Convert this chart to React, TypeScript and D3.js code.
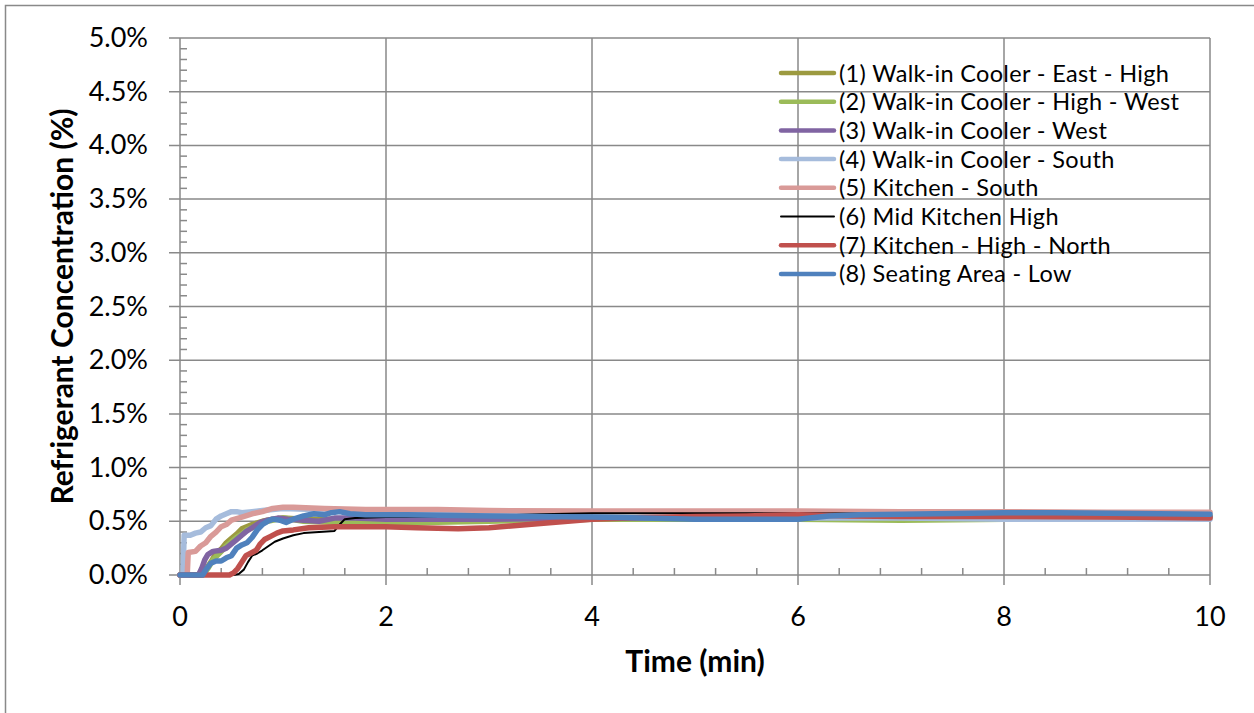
import { useEffect, useRef } from 'react';
import * as d3 from 'd3';

// time (min), concentration (%)
const coolerEastHigh: [number, number][] = [
  [0, 0], [0.2, 0], [0.25, 0.05], [0.3, 0.12], [0.35, 0.2], [0.4, 0.24], [0.45, 0.3], [0.5, 0.34],
  [0.55, 0.38], [0.6, 0.43], [0.7, 0.47], [0.8, 0.5], [0.9, 0.52], [1.0, 0.53], [1.2, 0.52],
  [1.5, 0.52], [2, 0.51], [3, 0.51], [4, 0.52], [5, 0.53], [6, 0.54], [7, 0.545], [8, 0.55],
  [9, 0.55], [10, 0.55],
];
const coolerHighWest: [number, number][] = [
  [0, 0], [0.22, 0], [0.27, 0.06], [0.32, 0.14], [0.38, 0.2], [0.45, 0.27], [0.5, 0.31],
  [0.55, 0.35], [0.6, 0.38], [0.65, 0.42], [0.75, 0.46], [0.85, 0.5], [1.0, 0.53], [1.2, 0.5],
  [1.5, 0.49], [2, 0.48], [2.5, 0.49], [3, 0.5], [3.5, 0.51], [4, 0.52], [5, 0.52], [6, 0.52],
  [7, 0.51], [8, 0.52], [9, 0.53], [10, 0.54],
];
const coolerWest: [number, number][] = [
  [0, 0], [0.18, 0], [0.21, 0.06], [0.24, 0.14], [0.27, 0.19], [0.32, 0.22], [0.4, 0.23],
  [0.45, 0.25], [0.5, 0.29], [0.55, 0.33], [0.6, 0.37], [0.65, 0.41], [0.7, 0.44], [0.78, 0.49],
  [0.85, 0.51], [0.95, 0.53], [1.05, 0.52], [1.2, 0.51], [1.35, 0.5], [1.5, 0.53], [1.7, 0.53],
  [2, 0.52], [3, 0.52], [4, 0.53], [5, 0.53], [6, 0.535], [7, 0.54], [8, 0.54], [9, 0.54], [10, 0.54],
];
const coolerSouth: [number, number][] = [
  [0, 0], [0.03, 0], [0.04, 0.37], [0.1, 0.37], [0.15, 0.39], [0.2, 0.4], [0.25, 0.44],
  [0.3, 0.46], [0.35, 0.52], [0.4, 0.55], [0.45, 0.57], [0.5, 0.59], [0.55, 0.59], [0.6, 0.58],
  [0.7, 0.59], [0.8, 0.6], [1.0, 0.62], [1.3, 0.61], [1.6, 0.59], [2, 0.57], [3, 0.56], [4, 0.54],
  [5, 0.53], [6, 0.53], [7, 0.53], [8, 0.52], [9, 0.52], [10, 0.52],
];
const kitchenSouth: [number, number][] = [
  [0, 0], [0.07, 0], [0.08, 0.21], [0.15, 0.22], [0.2, 0.27], [0.25, 0.3], [0.3, 0.36],
  [0.35, 0.4], [0.4, 0.45], [0.45, 0.47], [0.5, 0.51], [0.6, 0.54], [0.7, 0.57], [0.8, 0.59],
  [0.9, 0.62], [1.0, 0.63], [1.1, 0.63], [1.4, 0.62], [1.8, 0.61], [2.5, 0.61], [3, 0.6],
  [4, 0.595], [5, 0.595], [6, 0.595], [7, 0.59], [8, 0.59], [9, 0.585], [10, 0.585],
];
const midKitchenHigh: [number, number][] = [
  [0, 0], [0.52, 0], [0.57, 0.01], [0.62, 0.05], [0.66, 0.12], [0.7, 0.18], [0.75, 0.2],
  [0.8, 0.23], [0.86, 0.27], [0.92, 0.31], [1.0, 0.34], [1.1, 0.37], [1.2, 0.39], [1.35, 0.4],
  [1.5, 0.41], [1.55, 0.47], [1.6, 0.52], [1.7, 0.53], [2, 0.54], [3, 0.55], [3.5, 0.565],
  [4, 0.575], [5, 0.575], [6, 0.575], [7, 0.57], [8, 0.57], [9, 0.56], [10, 0.55],
];
const kitchenHighNorth: [number, number][] = [
  [0, 0], [0.48, 0], [0.52, 0.02], [0.56, 0.06], [0.6, 0.12], [0.64, 0.18], [0.7, 0.21],
  [0.74, 0.23], [0.78, 0.29], [0.82, 0.33], [0.88, 0.36], [0.94, 0.39], [1.0, 0.41], [1.1, 0.42],
  [1.25, 0.44], [1.5, 0.45], [2, 0.45], [2.3, 0.44], [2.7, 0.43], [3, 0.44], [3.5, 0.48],
  [4, 0.52], [4.5, 0.535], [5, 0.545], [5.5, 0.55], [6, 0.56], [6.5, 0.55], [7, 0.545],
  [8, 0.545], [9, 0.54], [10, 0.53],
];
const seatingLow: [number, number][] = [
  [0, 0], [0.22, 0], [0.26, 0.06], [0.3, 0.11], [0.35, 0.13], [0.4, 0.13], [0.45, 0.16],
  [0.5, 0.18], [0.55, 0.25], [0.6, 0.28], [0.65, 0.3], [0.7, 0.35], [0.75, 0.42], [0.8, 0.47],
  [0.85, 0.5], [0.9, 0.52], [0.97, 0.51], [1.03, 0.49], [1.1, 0.52], [1.2, 0.55], [1.3, 0.57],
  [1.4, 0.56], [1.47, 0.58], [1.55, 0.59], [1.65, 0.57], [1.8, 0.56], [2.2, 0.56], [3, 0.55],
  [4, 0.54], [4.5, 0.53], [5, 0.52], [5.5, 0.52], [6, 0.52], [6.3, 0.55], [6.6, 0.56],
  [7, 0.565], [8, 0.58], [8.5, 0.58], [9, 0.575], [10, 0.565],
];

const seriesNames = [
  '(1) Walk-in Cooler - East - High',
  '(2) Walk-in Cooler - High - West',
  '(3) Walk-in Cooler - West',
  '(4) Walk-in Cooler - South',
  '(5) Kitchen - South',
  '(6) Mid Kitchen High',
  '(7) Kitchen - High - North',
  '(8) Seating Area - Low',
];
const seriesData = [
  coolerEastHigh, coolerHighWest, coolerWest, coolerSouth,
  kitchenSouth, midKitchenHigh, kitchenHighNorth, seatingLow,
];
const COLORS = ['#9c9a40', '#9bbb59', '#8064a2', '#a6bcdc', '#d99a98', '#000000', '#c0504d', '#4f81bd'];
const WIDTHS = [5.5, 5.5, 5.5, 5.5, 5.5, 2, 5.5, 5.5];

const xTicks = [0, 2, 4, 6, 8, 10];
const yTicks = [0, 0.5, 1, 1.5, 2, 2.5, 3, 3.5, 4, 4.5, 5];

const FONT = 'Lato, "Open Sans", sans-serif';
const GRID = '#898989';

export default function App() {
  const svgRef = useRef<SVGSVGElement>(null);

  useEffect(() => {
    if (!svgRef.current) return;
    document.body.style.margin = '0';
    const svg = d3.select(svgRef.current);
    svg.selectAll('*').remove();

    const width = 1254;
    const height = 713;
    const margin = { top: 38, right: 44, bottom: 138, left: 180 };
    const innerWidth = width - margin.left - margin.right;
    const innerHeight = height - margin.top - margin.bottom;

    svg.attr('width', width).attr('height', height).style('font-family', FONT);

    // chart border
    svg.append('rect')
      .attr('x', 5.5).attr('y', 5.5)
      .attr('width', 1270).attr('height', 730)
      .attr('fill', '#fff')
      .attr('stroke', GRID).attr('stroke-width', 1.5);

    const x = d3.scaleLinear().domain([0, 10]).range([0, innerWidth]);
    const y = d3.scaleLinear().domain([0, 5]).range([innerHeight, 0]);

    const g = svg.append('g').attr('transform', `translate(${margin.left},${margin.top})`);

    // grid lines
    g.append('g')
      .selectAll('line')
      .data(yTicks.slice(1))
      .enter()
      .append('line')
      .attr('x1', -11).attr('x2', innerWidth)
      .attr('y1', (d) => y(d)).attr('y2', (d) => y(d))
      .attr('stroke', GRID).attr('stroke-width', 1.5);

    g.append('g')
      .selectAll('line')
      .data(xTicks.slice(1))
      .enter()
      .append('line')
      .attr('x1', (d) => x(d)).attr('x2', (d) => x(d))
      .attr('y1', 0).attr('y2', innerHeight + 10)
      .attr('stroke', GRID).attr('stroke-width', 1.5);

    // minor ticks
    const yMinor = d3.range(0, 50).map((i) => i / 10).filter((v) => Math.round(v * 10) % 5 !== 0);
    g.append('g')
      .selectAll('line')
      .data(yMinor)
      .enter()
      .append('line')
      .attr('x1', 0).attr('x2', 7)
      .attr('y1', (d) => y(d)).attr('y2', (d) => y(d))
      .attr('stroke', GRID).attr('stroke-width', 1.5);

    const xMinor = d3.range(0, 25).map((i) => i * 0.4).filter((_, i) => i % 5 !== 0);
    g.append('g')
      .selectAll('line')
      .data(xMinor)
      .enter()
      .append('line')
      .attr('x1', (d) => x(d)).attr('x2', (d) => x(d))
      .attr('y1', innerHeight - 7).attr('y2', innerHeight)
      .attr('stroke', GRID).attr('stroke-width', 1.5);

    // axes lines
    g.append('line')
      .attr('x1', -11).attr('x2', innerWidth)
      .attr('y1', innerHeight).attr('y2', innerHeight)
      .attr('stroke', GRID).attr('stroke-width', 1.5);
    g.append('line')
      .attr('x1', 0).attr('x2', 0)
      .attr('y1', 0).attr('y2', innerHeight + 10)
      .attr('stroke', GRID).attr('stroke-width', 1.5);

    // tick labels
    g.append('g')
      .selectAll('text')
      .data(yTicks)
      .enter()
      .append('text')
      .attr('x', -32)
      .attr('y', (d) => y(d) + 9)
      .attr('text-anchor', 'end')
      .style('font-size', '27px')
      .attr('fill', '#000')
      .text((d) => `${d.toFixed(1)}%`);

    g.append('g')
      .selectAll('text')
      .data(xTicks)
      .enter()
      .append('text')
      .attr('x', (d) => x(d))
      .attr('y', innerHeight + 51)
      .attr('text-anchor', 'middle')
      .style('font-size', '27px')
      .attr('fill', '#000')
      .text((d) => String(d));

    // axis titles
    g.append('text')
      .attr('x', innerWidth / 2)
      .attr('y', innerHeight + 97)
      .attr('text-anchor', 'middle')
      .style('font-size', '30px')
      .style('font-weight', 'bold')
      .text('Time (min)');

    g.append('text')
      .attr('transform', `translate(${73 - margin.left},${innerHeight / 2}) rotate(-90)`)
      .attr('text-anchor', 'middle')
      .style('font-size', '30px')
      .style('font-weight', 'bold')
      .text('Refrigerant Concentration (%)');

    // series
    const line = d3
      .line<[number, number]>()
      .x((d) => x(d[0]))
      .y((d) => y(d[1]))
      .curve(d3.curveLinear);

    seriesData.forEach((data, i) => {
      g.append('path')
        .datum(data)
        .attr('d', line)
        .attr('fill', 'none')
        .attr('stroke', COLORS[i])
        .attr('stroke-width', WIDTHS[i])
        .attr('stroke-linejoin', 'round')
        .attr('stroke-linecap', 'round');
    });

    // legend
    const legend = svg.append('g').attr('transform', 'translate(780, 73)');
    seriesNames.forEach((name, i) => {
      const row = legend.append('g').attr('transform', `translate(0, ${i * 28.7})`);
      row.append('line')
        .attr('x1', 1).attr('x2', 54)
        .attr('y1', 0).attr('y2', 0)
        .attr('stroke', COLORS[i])
        .attr('stroke-width', WIDTHS[i] === 2 ? 2 : 4.5)
        .attr('stroke-linecap', 'round');
      row.append('text')
        .attr('x', 59)
        .attr('y', 8.5)
        .style('font-size', '23.5px')
        .style('letter-spacing', '0.35px')
        .attr('fill', '#000')
        .text(name);
    });
  }, []);

  return <svg ref={svgRef} style={{ display: 'block' }} />;
}
